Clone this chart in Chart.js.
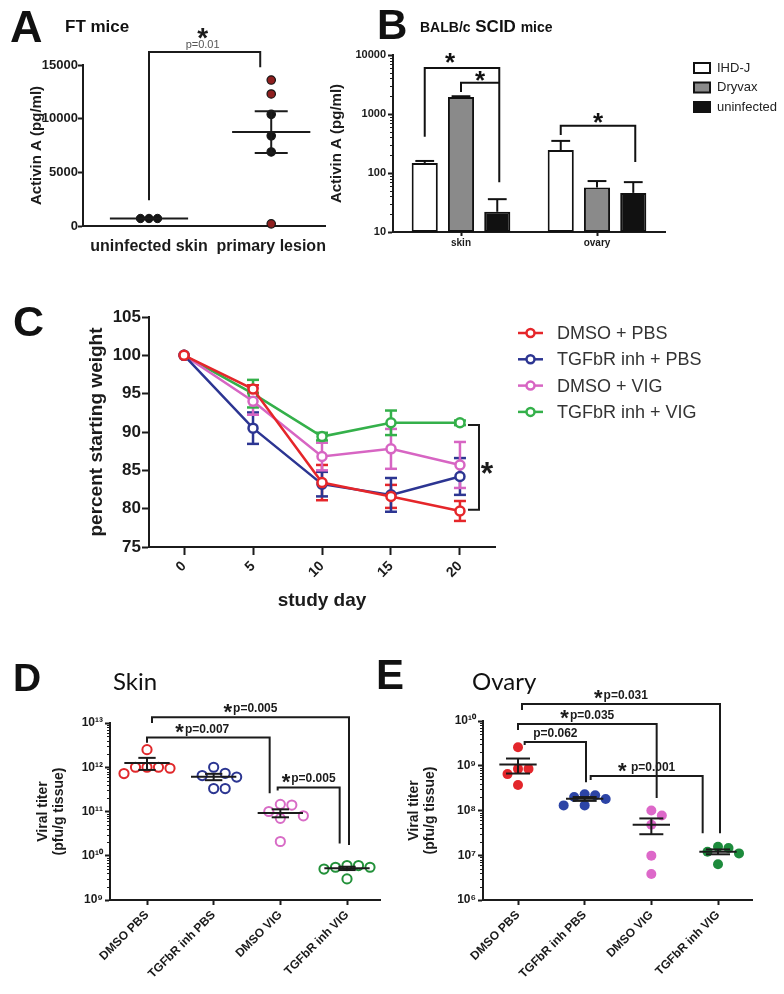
<!DOCTYPE html>
<html><head><meta charset="utf-8"><title>Activin A / TGFbR figure</title>
<script src="https://cdn.jsdelivr.net/npm/chart.js"></script>
<style>
html,body{margin:0;padding:0;background:#fff}
#page{position:relative;width:784px;height:994px;overflow:hidden;background:#fff}
#page canvas{position:absolute;left:0;top:0;width:784px;height:994px}
.t{position:absolute;white-space:nowrap;color:#111;line-height:1}
</style></head><body><div id="page">
<canvas id="chartA" width="784" height="994"></canvas>
<canvas id="chartB" width="784" height="994"></canvas>
<canvas id="chartC" width="784" height="994"></canvas>
<canvas id="chartD" width="784" height="994"></canvas>
<canvas id="chartE" width="784" height="994"></canvas>
</div>
<script>
// ================= DATA =================
// Panel A  (FT mice)
const aCategories = ['uninfected skin', 'primary lesion'];
const aUninfectedSkin = [700, 700, 700];
const aPrimaryLesion = [13600, 12300, 10400, 8400, 6900, 200];
const aPrimaryRed = [true, true, false, false, false, true];
const aMeans = [700, 8750];
const aSems = [0, 1950];
const aYTicks = [0, 5000, 10000, 15000];
const aYTickLabels = ['0', '5000', '10000', '15000'];

// Panel B  (BALB/c SCID mice)
const bCategories = ['skin', 'ovary'];
const bSeriesNames = ['IHD-J', 'Dryvax', 'uninfected'];
const bIHDJ = [148, 245];
const bDryvax = [1950, 57];
const bUninfected = [22, 46];
const bIHDJUpper = [160, 350];
const bDryvaxUpper = [2000, 73];
const bUninfectedUpper = [36, 70];
const bYTicks = [10, 100, 1000, 10000];
const bYTickLabels = ['10', '100', '1000', '10000'];

// Panel C  (weight)
const cDays = [0, 5, 10, 15, 20];
const cSeriesNames = ['DMSO + PBS', 'TGFbR inh + PBS', 'DMSO + VIG', 'TGFbR inh + VIG'];
const cDmsoPbs = [100, 95.6, 83.4, 81.6, 79.7];
const cDmsoPbsErr = [0, 0.5, 2.3, 1.5, 1.3];
const cTgfPbs = [100, 90.5, 83.2, 81.8, 84.2];
const cTgfPbsErr = [0, 2.05, 1.6, 2.2, 2.4];
const cDmsoVig = [100, 94.0, 86.8, 87.8, 85.7];
const cDmsoVigErr = [0, 1.75, 1.8, 2.6, 3.0];
const cTgfVig = [100, 95.0, 89.4, 91.2, 91.2];
const cTgfVigErr = [0, 1.8, 0.5, 1.6, 0.3];
const cYTicks = [75, 80, 85, 90, 95, 100, 105];

// Panel D  (Skin viral titer)
const dCategories = ['DMSO PBS', 'TGFbR inh PBS', 'DMSO VIG', 'TGFbR inh VIG'];
const dDmsoPbs = [2.5e12, 1.0e12, 7.2e11, 9.5e11, 1.0e12, 1.0e12];
const dTgfPbs = [1.0e12, 7.3e11, 6.5e11, 6.0e11, 3.3e11, 3.3e11];
const dDmsoVig = [1.45e11, 1.4e11, 1.0e11, 8.0e10, 7.0e10, 2.1e10];
const dTgfVig = [6.0e9, 5.5e9, 5.0e9, 5.5e9, 6.0e9, 3.0e9];
const dMeans = [1.25e12, 6.1e11, 9.3e10, 5.2e9];
const dSems = [3.8e11, 1.0e11, 1.9e10, 4.5e8];
const dYTicks = [1e9, 1e10, 1e11, 1e12, 1e13];
const dYTickLabels = ['10⁹', '10¹⁰', '10¹¹', '10¹²', '10¹³'];

// Panel E  (Ovary viral titer)
const eCategories = ['DMSO PBS', 'TGFbR inh PBS', 'DMSO VIG', 'TGFbR inh VIG'];
const eDmsoPbs = [2.6e9, 8.5e8, 8.5e8, 6.5e8, 3.7e8];
const eTgfPbs = [2.3e8, 2.2e8, 2.0e8, 1.8e8, 1.3e8, 1.3e8];
const eDmsoVig = [1.0e8, 7.7e7, 4.8e7, 9.8e6, 3.8e6];
const eTgfVig = [1.55e7, 1.45e7, 1.2e7, 1.1e7, 6.3e6];
const eMeans = [1.06e9, 1.82e8, 4.8e7, 1.2e7];
const eSems = [3.9e8, 1.8e7, 1.85e7, 1.5e6];
const eYTicks = [1e6, 1e7, 1e8, 1e9, 1e10];
const eYTickLabels = ['10⁶', '10⁷', '10⁸', '10⁹', '10¹⁰'];

// ================= HELPERS =================
const PAGE_W = 784, PAGE_H = 994;
const FONT = "'Liberation Sans', Arial, Helvetica, sans-serif";
const INK = '#1b1b1b';
Chart.defaults.font.family = FONT;
Chart.defaults.color = INK;

function frame(left, top, right, bottom, yWidth, xHeight) {
  return { autoPadding: false, padding: { left: left - yWidth, top: top, right: PAGE_W - right, bottom: PAGE_H - bottom - xHeight } };
}
function fixWidth(w) { return s => { s.width = w; s.paddingTop = 0; s.paddingBottom = 0; s.paddingLeft = 0; s.paddingRight = 0; }; }
function fixHeight(h) { return s => { s.height = h; s.paddingTop = 0; s.paddingBottom = 0; s.paddingLeft = 0; s.paddingRight = 0; }; }
function setTicks(values) { return s => { s.ticks = values.map(v => ({ value: v })); }; }
function bold(size) { return { family: FONT, size: size, weight: 'bold' }; }
function tickMarks(len) { return { display: true, drawOnChartArea: false, drawTicks: true, tickLength: len, tickWidth: 2, tickColor: INK }; }
const axisLine = { display: true, color: INK, width: 2 };
const baseOpts = { responsive: false, animation: false, events: [], devicePixelRatio: 1 };
const noPlugins = { legend: { display: false }, tooltip: { enabled: false }, title: { display: false } };

function drawCentered(ctx, text, x, yc, font, color) {
  ctx.font = font; ctx.fillStyle = color; ctx.textAlign = 'center'; ctx.textBaseline = 'alphabetic';
  const m = ctx.measureText(text);
  ctx.fillText(text, x, yc + (m.actualBoundingBoxAscent - m.actualBoundingBoxDescent) / 2);
}
function strokePath(ctx, pts, color, lw) {
  ctx.save(); ctx.strokeStyle = color; ctx.lineWidth = lw; ctx.lineJoin = 'miter'; ctx.lineCap = 'butt';
  ctx.beginPath(); ctx.moveTo(pts[0][0], pts[0][1]);
  for (let i = 1; i < pts.length; i++) ctx.lineTo(pts[i][0], pts[i][1]);
  ctx.stroke(); ctx.restore();
}
// minor ticks on log axes
function logMinorTicks(len) {
  return { id: 'logMinor', afterDraw(chart) {
    const y = chart.scales.y, ctx = chart.ctx, L = chart.chartArea.left;
    ctx.save(); ctx.strokeStyle = INK; ctx.lineWidth = 1;
    for (let e = Math.round(Math.log10(y.min)); e < Math.round(Math.log10(y.max)); e++) {
      for (let m = 2; m <= 9; m++) {
        const py = Math.round(y.getPixelForValue(m * Math.pow(10, e))) + 0.5;
        ctx.beginPath(); ctx.moveTo(L - len, py); ctx.lineTo(L, py); ctx.stroke();
      }
    }
    ctx.restore();
  }};
}
// beeswarm offsets (pixels) for a group of points
function swarmOffsets(py, d) {
  const order = py.map((v, i) => i).sort((a, b) => py[a] - py[b]);
  const placed = [], out = py.map(() => 0);
  for (const i of order) {
    for (let k = 0; k < 60; k++) {
      const cand = k === 0 ? 0 : (k % 2 ? 1 : -1) * Math.ceil(k / 2) * d;
      if (placed.every(p => Math.hypot(p.x - cand, p.y - py[i]) >= d - 0.01)) { out[i] = cand; placed.push({ x: cand, y: py[i] }); break; }
    }
  }
  return out;
}
function applySwarm(chart, groups, d) {
  const xs = chart.scales.x, ys = chart.scales.y;
  const ppu = xs.getPixelForValue(1) - xs.getPixelForValue(0);
  groups.forEach((vals, gi) => {
    const offs = swarmOffsets(vals.map(v => ys.getPixelForValue(v)), d);
    chart.data.datasets[gi].data = vals.map((v, i) => ({ x: gi + offs[i] / ppu, y: v }));
  });
  chart.update('none');
}
function meanSemPlugin(means, sems, halfW, capHalf, lw) {
  return { id: 'meanSem', afterDatasetsDraw(chart) {
    const { ctx, scales: { x, y } } = chart;
    means.forEach((m, i) => {
      const ym = y.getPixelForValue(m);
      strokePath(ctx, [[x.getPixelForValue(i - halfW), ym], [x.getPixelForValue(i + halfW), ym]], INK, lw);
      if (sems[i] > 0) {
        const xc = x.getPixelForValue(i), yu = y.getPixelForValue(m + sems[i]), yl = y.getPixelForValue(m - sems[i]);
        const c0 = x.getPixelForValue(i - capHalf), c1 = x.getPixelForValue(i + capHalf);
        strokePath(ctx, [[xc, yu], [xc, yl]], INK, lw);
        strokePath(ctx, [[c0, yu], [c1, yu]], INK, lw);
        strokePath(ctx, [[c0, yl], [c1, yl]], INK, lw);
      }
    });
  }};
}
function bracketPlugin(brackets, cfg) {
  return { id: 'brackets', afterDraw(chart) {
    const { ctx, scales: { x, y } } = chart;
    brackets.forEach(b => {
      const x1 = x.getPixelForValue(b.x1), x2 = x.getPixelForValue(b.x2), yt = y.getPixelForValue(b.top);
      strokePath(ctx, [[x1, y.getPixelForValue(b.end1)], [x1, yt], [x2, yt], [x2, y.getPixelForValue(b.end2)]], INK, 2);
      const cx = (x1 + x2) / 2 + (b.dx || 0);
      ctx.font = cfg.textFont; const tw = b.text ? ctx.measureText(b.text).width : 0;
      ctx.font = cfg.starFont; const sw = b.star ? ctx.measureText('*').width : 0;
      const gap = (b.star && b.text) ? cfg.gap : 0;
      const x0 = cx - (sw + gap + tw) / 2;
      if (b.star) drawCentered(ctx, '*', x0 + sw / 2, yt - cfg.starRaise, cfg.starFont, INK);
      if (b.text) { ctx.font = cfg.textFont; ctx.fillStyle = INK; ctx.textAlign = 'left'; ctx.textBaseline = 'alphabetic'; ctx.fillText(b.text, x0 + sw + gap, yt - cfg.textRaise); }
    });
  }};
}

// ================= PANEL A =================
const chartA = new Chart(document.getElementById('chartA'), {
  type: 'scatter',
  data: { datasets: [
    { label: aCategories[0], data: aUninfectedSkin.map(v => ({ x: 0, y: v })), pointRadius: 4.2, pointBackgroundColor: '#151515', pointBorderColor: '#151515', pointBorderWidth: 1, clip: false },
    { label: aCategories[1], data: aPrimaryLesion.map(v => ({ x: 1, y: v })), pointRadius: 4.2,
      pointBackgroundColor: aPrimaryRed.map(r => r ? '#8e1f1f' : '#151515'), pointBorderColor: '#151515', pointBorderWidth: 1.2, clip: false }
  ]},
  options: Object.assign({}, baseOpts, {
    layout: frame(83, 65, 325, 226, 60, 30),
    plugins: noPlugins,
    scales: {
      x: { type: 'linear', min: -0.54, max: 1.44, afterBuildTicks: setTicks([0, 1]), afterFit: fixHeight(30),
           ticks: { callback: v => aCategories[v], font: bold(16), color: INK, padding: 3, maxRotation: 0, autoSkip: false },
           grid: { display: false }, border: axisLine },
      y: { type: 'linear', min: 0, max: 15000, afterBuildTicks: setTicks(aYTicks), afterFit: fixWidth(60),
           ticks: { font: bold(13), color: INK, padding: 0, autoSkip: false, callback: (v, i) => aYTickLabels[i] },
           grid: tickMarks(5), border: axisLine,
           title: { display: true, text: 'Activin A (pg/ml)', font: bold(15), color: INK, padding: { top: 5, bottom: 0 } } }
    }
  }),
  plugins: [ meanSemPlugin(aMeans, aSems, 0.32, 0.135, 2),
    { id: 'aBracket', afterDraw(chart) {
      const { ctx, scales: { x, y } } = chart;
      const x1 = x.getPixelForValue(0), x2 = x.getPixelForValue(0.91), yt = y.getPixelForValue(16200);
      strokePath(ctx, [[x1, y.getPixelForValue(2400)], [x1, yt], [x2, yt], [x2, y.getPixelForValue(14800)]], INK, 2);
      const cx = (x1 + x2) / 2 - 2;
      drawCentered(ctx, '*', cx, yt - 19, "bold 28px " + FONT, INK);
      drawCentered(ctx, 'p=0.01', cx, yt - 7, "11px " + FONT, '#555');
    }} ]
});
applySwarm(chartA, [aUninfectedSkin, aPrimaryLesion], 8.5);

// ================= PANEL B =================
const bUppers = [bIHDJUpper, bDryvaxUpper, bUninfectedUpper];
const bFills = ['#ffffff', '#8a8a8a', '#111111'];
const chartB = new Chart(document.getElementById('chartB'), {
  type: 'bar',
  data: { labels: bCategories, datasets: [bIHDJ, bDryvax, bUninfected].map((vals, i) => ({
    label: bSeriesNames[i], data: vals, backgroundColor: bFills[i], borderColor: '#111', borderWidth: 2, borderSkipped: false,
    categoryPercentage: 0.8, barPercentage: 0.72 })) },
  options: Object.assign({}, baseOpts, {
    layout: frame(393, 55, 665, 232, 70, 20),
    plugins: noPlugins,
    scales: {
      x: { type: 'category', afterFit: fixHeight(20), ticks: { font: bold(10), color: INK, padding: 1, maxRotation: 0, autoSkip: false },
           grid: Object.assign(tickMarks(4), { offset: false }), border: axisLine },
      y: { type: 'logarithmic', min: 10, max: 10000, afterBuildTicks: setTicks(bYTicks), afterFit: fixWidth(70),
           ticks: { font: bold(11), color: INK, padding: 2, autoSkip: false, callback: (v, i) => bYTickLabels[i] },
           grid: tickMarks(5), border: axisLine,
           title: { display: true, text: 'Activin A (pg/ml)', font: bold(15), color: INK, padding: { top: 5, bottom: 0 } } }
    }
  }),
  plugins: [ logMinorTicks(3),
    { id: 'bErr', afterDatasetsDraw(chart) {
      const { ctx, scales: { y } } = chart;
      chart.data.datasets.forEach((ds, d) => {
        chart.getDatasetMeta(d).data.forEach((bar, i) => {
          const yu = y.getPixelForValue(bUppers[d][i]), half = bar.width * 0.36;
          strokePath(ctx, [[bar.x, bar.y], [bar.x, yu]], '#111', 2);
          strokePath(ctx, [[bar.x - half, yu], [bar.x + half, yu]], '#111', 2);
        });
      });
    }},
    { id: 'bBrackets', afterDraw(chart) {
      const { ctx, scales: { y } } = chart;
      const bx = (d, i) => chart.getDatasetMeta(d).data[i].x;
      const list = [
        { f: [0, 0], t: [2, 0], top: 6000, e1: 410, e2: 70, raise: 10, dx: -12 },
        { f: [1, 0], t: [2, 0], top: 3400, e1: 2350, e2: 3400, raise: 7, dx: 0 },
        { f: [0, 1], t: [2, 1], top: 630, e1: 440, e2: 154, raise: 8, dx: 0 }
      ];
      list.forEach(b => {
        const x1 = bx(b.f[0], b.f[1]), x2 = bx(b.t[0], b.t[1]) + 2, yt = y.getPixelForValue(b.top);
        strokePath(ctx, [[x1, y.getPixelForValue(b.e1)], [x1, yt], [x2, yt], [x2, y.getPixelForValue(b.e2)]], '#111', 2);
        drawCentered(ctx, '*', (x1 + x2) / 2 + b.dx, yt - b.raise, "bold 26px " + FONT, '#111');
      });
    }},
    { id: 'bLegend', afterDraw(chart) {
      const ctx = chart.ctx;
      chart.data.datasets.forEach((ds, i) => {
        const yc = 68 + i * 19.5;
        ctx.save(); ctx.fillStyle = ds.backgroundColor; ctx.strokeStyle = '#111'; ctx.lineWidth = 2;
        ctx.fillRect(694, yc - 5, 16, 10); ctx.strokeRect(694, yc - 5, 16, 10);
        ctx.font = "13px " + FONT; ctx.fillStyle = '#222'; ctx.textAlign = 'left'; ctx.textBaseline = 'middle';
        ctx.fillText(ds.label, 717, yc); ctx.restore();
      });
    }} ]
});

// ================= PANEL C =================
const cColors = ['#e5262a', '#2c3592', '#d765c3', '#34b04a'];
const cSeries = [cDmsoPbs, cTgfPbs, cDmsoVig, cTgfVig];
const cErrs = [cDmsoPbsErr, cTgfPbsErr, cDmsoVigErr, cTgfVigErr];
const chartC = new Chart(document.getElementById('chartC'), {
  type: 'line',
  data: { datasets: cSeries.map((vals, i) => ({
    label: cSeriesNames[i], data: vals.map((v, k) => ({ x: cDays[k], y: v })),
    borderColor: cColors[i], backgroundColor: '#ffffff', borderWidth: 2.5, pointRadius: 4.5, pointBorderWidth: 2.5,
    pointBackgroundColor: '#ffffff', pointBorderColor: cColors[i], tension: 0, clip: false })) },
  options: Object.assign({}, baseOpts, {
    layout: frame(149, 317, 495, 547, 70, 70),
    plugins: noPlugins,
    scales: {
      x: { type: 'linear', min: -2.54, max: 22.54, afterBuildTicks: setTicks(cDays), afterFit: fixHeight(70),
           ticks: { font: bold(14), color: INK, padding: 3, minRotation: 45, maxRotation: 45, autoSkip: false },
           grid: tickMarks(8), border: axisLine,
           title: { display: true, text: 'study day', font: bold(19), color: INK, padding: { top: 0, bottom: 4.6 } } },
      y: { type: 'linear', min: 75, max: 105, afterBuildTicks: setTicks(cYTicks), afterFit: fixWidth(70),
           ticks: { font: bold(17), color: INK, padding: 1, autoSkip: false },
           grid: tickMarks(7), border: axisLine,
           title: { display: true, text: 'percent starting weight', font: bold(19), color: INK, padding: { top: 6.6, bottom: 0 } } }
    }
  }),
  plugins: [
    { id: 'cErr', beforeDatasetsDraw(chart) {
      const { ctx, scales: { x, y } } = chart;
      cSeries.forEach((vals, d) => vals.forEach((v, k) => {
        const e = cErrs[d][k]; if (!e) return;
        const xc = x.getPixelForValue(cDays[k]), yu = y.getPixelForValue(v + e), yl = y.getPixelForValue(v - e);
        strokePath(ctx, [[xc, yu], [xc, yl]], cColors[d], 2.5);
        strokePath(ctx, [[xc - 6, yu], [xc + 6, yu]], cColors[d], 2.5);
        strokePath(ctx, [[xc - 6, yl], [xc + 6, yl]], cColors[d], 2.5);
      }));
    }},
    { id: 'cSig', afterDraw(chart) {
      const { ctx, scales: { x, y } } = chart;
      const xb = x.getPixelForValue(21.38), xs = x.getPixelForValue(20.58);
      const yt = y.getPixelForValue(90.9), yb = y.getPixelForValue(79.85);
      strokePath(ctx, [[xs, yt], [xb, yt], [xb, yb], [xs, yb]], INK, 2);
      drawCentered(ctx, '*', x.getPixelForValue(21.95), y.getPixelForValue(85.3), "bold 32px " + FONT, INK);
    }},
    { id: 'cLegend', afterDraw(chart) {
      const ctx = chart.ctx;
      chart.data.datasets.forEach((ds, i) => {
        const yc = 333 + i * 26.3;
        strokePath(ctx, [[518, yc], [543, yc]], ds.borderColor, 2.5);
        ctx.save(); ctx.beginPath(); ctx.arc(530.5, yc, 4, 0, Math.PI * 2); ctx.fillStyle = '#fff'; ctx.fill();
        ctx.lineWidth = 2.5; ctx.strokeStyle = ds.borderColor; ctx.stroke();
        ctx.font = "18px " + FONT; ctx.fillStyle = '#333'; ctx.textAlign = 'left'; ctx.textBaseline = 'middle';
        ctx.fillText(ds.label, 557, yc + 1); ctx.restore();
      });
    }} ]
});

// ================= PANEL D =================
const dColors = ['#e0282b', '#2b3591', '#d86cc6', '#23913a'];
const dGroups = [dDmsoPbs, dTgfPbs, dDmsoVig, dTgfVig];
const sigCfg = { starFont: "bold 22px " + FONT, textFont: "bold 12px " + FONT, gap: 1, starRaise: 9, textRaise: 5 };
const chartD = new Chart(document.getElementById('chartD'), {
  type: 'scatter',
  data: { datasets: dGroups.map((vals, i) => ({ label: dCategories[i], data: vals.map(v => ({ x: i, y: v })),
    pointRadius: 4.6, pointBorderWidth: 2, pointBorderColor: dColors[i], pointBackgroundColor: 'rgba(255,255,255,0)', clip: false })) },
  options: Object.assign({}, baseOpts, {
    layout: frame(110, 723, 380, 900, 80, 100),
    plugins: noPlugins,
    scales: {
      x: { type: 'linear', min: -0.555, max: 3.495, afterBuildTicks: setTicks([0, 1, 2, 3]), afterFit: fixHeight(100),
           ticks: { callback: v => dCategories[v], font: bold(12), color: INK, padding: 3, minRotation: 45, maxRotation: 45, autoSkip: false },
           grid: tickMarks(5), border: axisLine },
      y: { type: 'logarithmic', min: 1e9, max: 1e13, afterBuildTicks: setTicks(dYTicks), afterFit: fixWidth(80),
           ticks: { font: bold(12), color: INK, padding: 2, autoSkip: false, callback: (v, i) => dYTickLabels[i] },
           grid: tickMarks(5), border: axisLine,
           title: { display: true, text: ['Viral titer', '(pfu/g tissue)'], font: { family: FONT, size: 14, weight: 'bold', lineHeight: 1.15 }, color: INK, padding: { top: 4.9, bottom: 0 } } }
    }
  }),
  plugins: [ logMinorTicks(3), meanSemPlugin(dMeans, dSems, 0.34, 0.13, 2),
    bracketPlugin([
      { x1: 0.075, x2: 3.03, top: 1.35e13, end1: 1.0e13, end2: 1.74e10, star: true, text: 'p=0.005' },
      { x1: 0, x2: 1.84, top: 4.7e12, end1: 3.6e12, end2: 2.6e11, star: true, text: 'p=0.007', dx: -6 },
      { x1: 1.96, x2: 2.89, top: 3.5e11, end1: 3.0e11, end2: 1.9e10, star: true, text: 'p=0.005' }
    ], sigCfg) ]
});
applySwarm(chartD, dGroups, 11.5);

// ================= PANEL E =================
const eColors = ['#e3262b', '#2c44a6', '#dd68c9', '#1d8b3c'];
const eGroups = [eDmsoPbs, eTgfPbs, eDmsoVig, eTgfVig];
const chartE = new Chart(document.getElementById('chartE'), {
  type: 'scatter',
  data: { datasets: eGroups.map((vals, i) => ({ label: eCategories[i], data: vals.map(v => ({ x: i, y: v })),
    pointRadius: 5, pointBorderWidth: 0, pointBorderColor: eColors[i], pointBackgroundColor: eColors[i], clip: false })) },
  options: Object.assign({}, baseOpts, {
    layout: frame(483, 721, 752, 900, 80, 100),
    plugins: noPlugins,
    scales: {
      x: { type: 'linear', min: -0.525, max: 3.51, afterBuildTicks: setTicks([0, 1, 2, 3]), afterFit: fixHeight(100),
           ticks: { callback: v => eCategories[v], font: bold(12), color: INK, padding: 3, minRotation: 45, maxRotation: 45, autoSkip: false },
           grid: tickMarks(5), border: axisLine },
      y: { type: 'logarithmic', min: 1e6, max: 1e10, afterBuildTicks: setTicks(eYTicks), afterFit: fixWidth(80),
           ticks: { font: bold(12), color: INK, padding: 2, autoSkip: false, callback: (v, i) => eYTickLabels[i] },
           grid: tickMarks(5), border: axisLine,
           title: { display: true, text: ['Viral titer', '(pfu/g tissue)'], font: { family: FONT, size: 14, weight: 'bold', lineHeight: 1.15 }, color: INK, padding: { top: 2.9, bottom: 0 } } }
    }
  }),
  plugins: [ logMinorTicks(3), meanSemPlugin(eMeans, eSems, 0.28, 0.18, 2),
    bracketPlugin([
      { x1: 0.06, x2: 3.03, top: 2.4e10, end1: 1.76e10, end2: 3.1e7, star: true, text: 'p=0.031' },
      { x1: 0, x2: 2.08, top: 8.6e9, end1: 6.3e9, end2: 1.9e8, star: true, text: 'p=0.035' },
      { x1: 0.1, x2: 1.02, top: 3.4e9, end1: 2.9e9, end2: 4.3e8, star: false, text: 'p=0.062' },
      { x1: 1.09, x2: 2.77, top: 5.9e8, end1: 4.8e8, end2: 3.1e7, star: true, text: ' p=0.001' }
    ], sigCfg) ]
});
applySwarm(chartE, eGroups, 10.5);

// ================= PANEL LETTERS / TITLES (HTML text) =================
function addText(html, x, baseline, size, weight, family, ascentRatio) {
  const d = document.createElement('div');
  d.className = 't';
  d.innerHTML = html;
  d.style.left = x + 'px';
  d.style.top = (baseline - ascentRatio * size) + 'px';
  d.style.font = weight + ' ' + size + 'px ' + family;
  d.style.lineHeight = size + 'px';
  document.getElementById('page').appendChild(d);
}
const LIB = "'Liberation Sans', Arial, sans-serif", LATO = "Lato, 'Open Sans', sans-serif";
const LIB_ASC = 0.8465, LATO_ASC = 0.887;
addText('A', 10, 42, 45, 'bold', LIB, LIB_ASC);
addText('FT mice', 65, 32, 17, 'bold', LIB, LIB_ASC);
addText('B', 377, 40, 42, 'bold', LIB, LIB_ASC);
addText('<span style="font-size:14px">BALB/c</span> SCID <span style="font-size:14px">mice</span>', 420, 32, 17, 'bold', LIB, LIB_ASC);
addText('C', 13, 336, 43, 'bold', LIB, LIB_ASC);
addText('D', 13, 691, 39, 'bold', LIB, LIB_ASC);
addText('Skin', 113, 690, 24, 'normal', LATO, LATO_ASC);
addText('E', 376, 690, 42, 'bold', LIB, LIB_ASC);
addText('Ovary', 472, 690, 24, 'normal', LATO, LATO_ASC);
</script>
</body></html>
